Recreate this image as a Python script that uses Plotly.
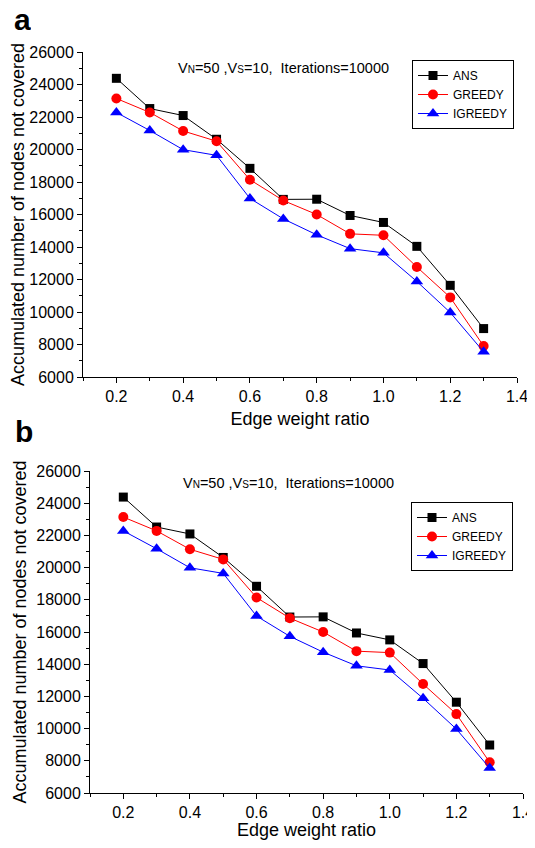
import plotly.graph_objects as go

edge_ratio = [0.2, 0.3, 0.4, 0.5, 0.6, 0.7, 0.8, 0.9, 1.0, 1.1, 1.2, 1.3]
ans = [24380, 22520, 22090, 20630, 18840, 16930, 16940, 15940, 15510, 14040, 11640, 8980]
greedy = [23140, 22280, 21140, 20510, 18140, 16860, 16000, 14810, 14720, 12770, 10900, 7910]
igreedy = [22280, 21170, 19990, 19640, 16990, 15730, 14750, 13900, 13640, 11880, 9970, 7550]

series_names = ["ANS", "GREEDY", "IGREEDY"]
series_values = [ans, greedy, igreedy]
series_colors = ["#000000", "#FF0000", "#0000FF"]
series_symbols = ["square", "circle", "triangle-up"]
series_sizes = [9, 10, 11]

# the page body has an 8px margin, so the figure is drawn 8px in from the window edge;
# keep the page from overflowing vertically
OFF = 8
W, H = 535 - OFF, 848 - 2 * OFF
FONT = "Liberation Sans, Arial, sans-serif"


def px(x):
    return (x - OFF) / W


def py(y):
    return 1 - (y - OFF) / H


# panel geometry (window pixels): left, right, top, bottom
panels = [
    dict(l=83, r=517, t=52, b=377, label="a", lab_xy=(12, 19), ann_xy=(283, 68), leg_xy=(412, 60), xstand=8),
    dict(l=90, r=523, t=471, b=793, label="b", lab_xy=(13, 431), ann_xy=(288, 483), leg_xy=(411, 502), xstand=4),
]

fig = go.Figure()
annotations = []
for i, p in enumerate(panels):
    sfx = "" if i == 0 else str(i + 1)
    for name, vals, col, sym, sz in zip(series_names, series_values, series_colors, series_symbols, series_sizes):
        fig.add_trace(go.Scatter(
            x=edge_ratio, y=vals, name=name, mode="lines+markers",
            line=dict(color=col, width=1),
            marker=dict(symbol=sym, size=sz, color=col),
            xaxis="x" + sfx, yaxis="y" + sfx,
            legend="legend" + sfx,
        ))
    xd = [px(p["l"]), px(p["r"])]
    yd = [py(p["b"]), py(p["t"])]
    axcommon = dict(showline=True, linecolor="black", linewidth=1, mirror=False,
                    showgrid=False, zeroline=False, ticks="outside", tickcolor="black",
                    automargin=False, ticklabeloverflow="allow",
                    tickfont=dict(family=FONT, size=16, color="black"))
    fig.update_layout(**{
        "xaxis" + sfx: dict(domain=xd, range=[0.1, 1.4], dtick=0.2, tick0=0.2, ticklen=5,
                            tickformat=".1f",
                            minor=dict(dtick=0.1, tick0=0.1, ticks="outside", ticklen=3, tickcolor="black"),
                            anchor="y" + sfx,
                            title=dict(text="Edge weight ratio", font=dict(family=FONT, size=18, color="black"), standoff=p["xstand"]),
                            **axcommon),
        "yaxis" + sfx: dict(domain=yd, range=[6000, 26000], dtick=2000, tick0=6000, ticklen=5,
                            tickformat="d",
                            minor=dict(dtick=1000, tick0=6000, ticks="outside", ticklen=3, tickcolor="black"),
                            anchor="x" + sfx,
                            title=dict(text="Accumulated number of nodes not covered", font=dict(family=FONT, size=18, color="black"), standoff=4),
                            **axcommon),
        "legend" + sfx: dict(x=px(p["leg_xy"][0]), y=py(p["leg_xy"][1]), xanchor="left", yanchor="top",
                             bordercolor="black", borderwidth=1, bgcolor="white",
                             font=dict(family=FONT, size=12, color="black"),
                             tracegroupgap=0, itemwidth=30),
    })
    annotations.append(dict(text="<b>" + p["label"] + "</b>", x=px(p["lab_xy"][0]), y=py(p["lab_xy"][1]),
                            xref="paper", yref="paper", xanchor="left", yanchor="middle", showarrow=False,
                            height=22, valign="middle",
                            font=dict(family=FONT, size=30, color="black")))
    annotations.append(dict(text="V<span style='font-size:10px'>N</span>=50 ,V<span style='font-size:10px'>S</span>=10,\u00a0 Iterations=10000",
                            x=px(p["ann_xy"][0]), y=py(p["ann_xy"][1]), xref="paper", yref="paper",
                            xanchor="center", yanchor="middle", showarrow=False,
                            font=dict(family=FONT, size=14.5, color="black")))

fig.update_layout(width=W, height=H, margin=dict(l=0, r=0, t=0, b=0),
                  paper_bgcolor="white", plot_bgcolor="white",
                  annotations=annotations, showlegend=True)
fig.write_html("out.html")
